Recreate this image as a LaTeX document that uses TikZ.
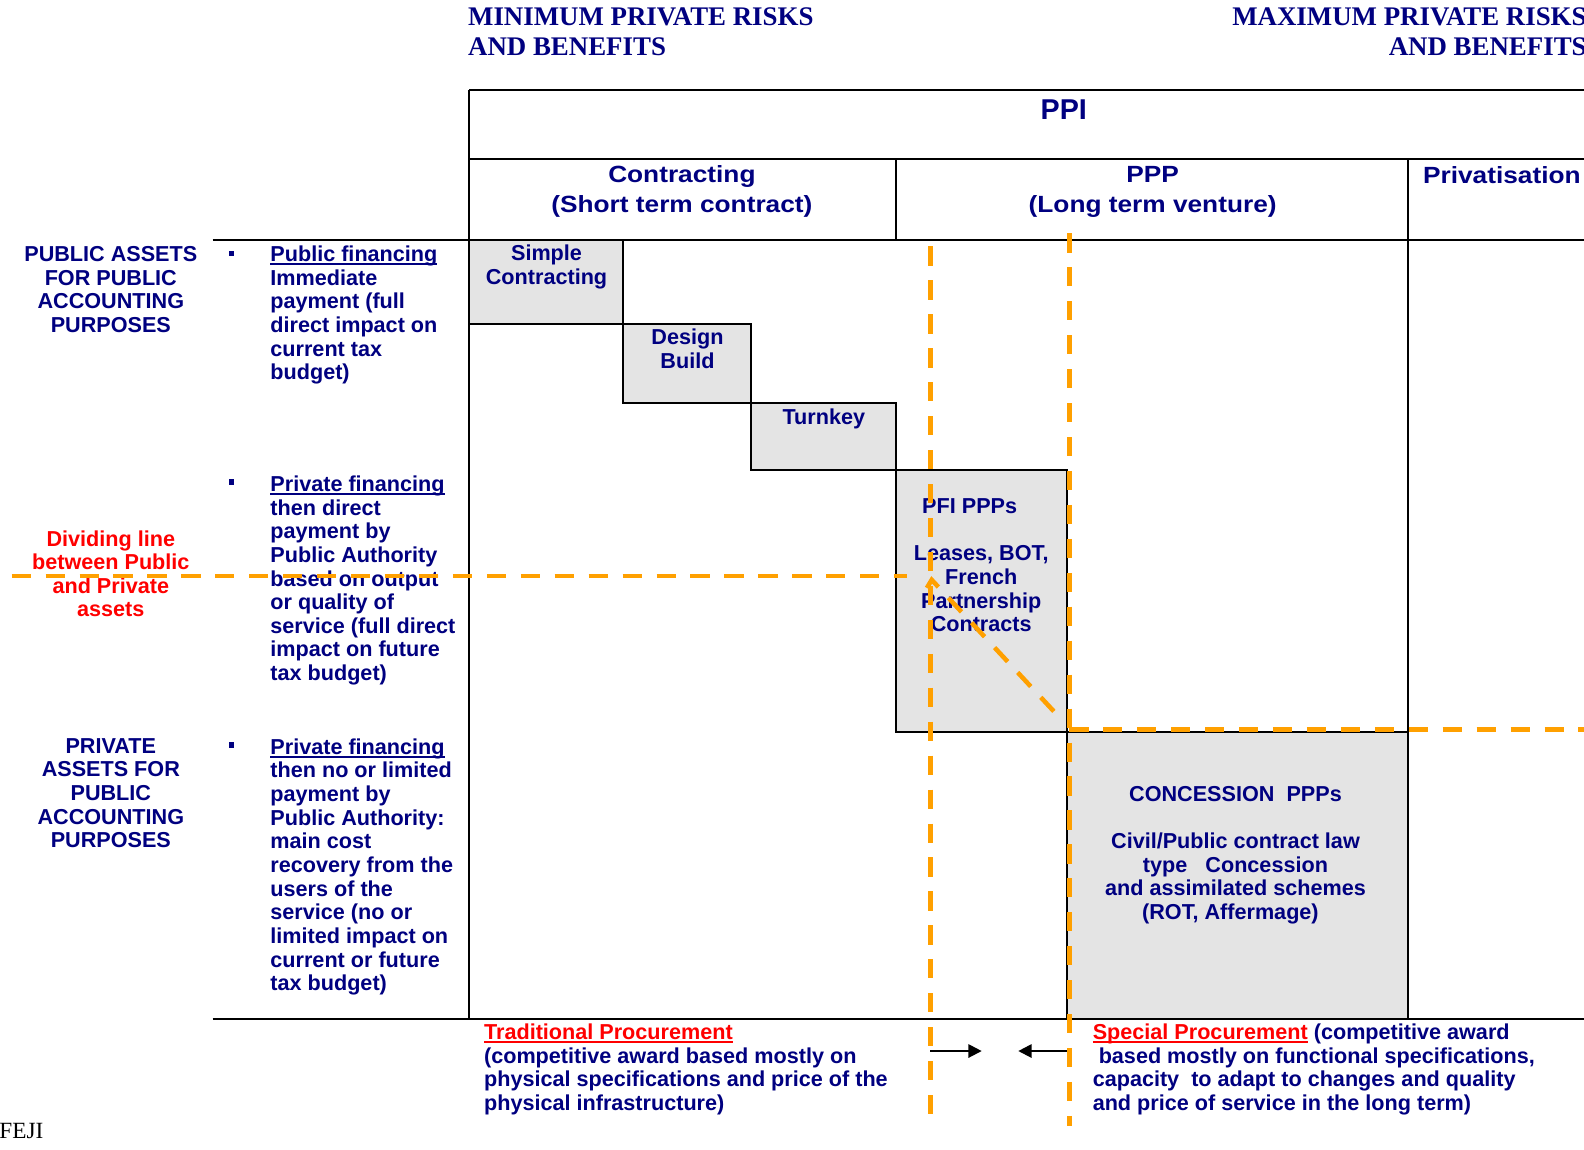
\documentclass[tikz,border=0pt]{standalone}
\usepackage{fontspec}
\setmainfont{Liberation Sans}
\newfontfamily\serifb{Liberation Serif}
\newfontfamily\hdfont[FakeStretch=1.12]{Liberation Sans}
\usetikzlibrary{arrows.meta}
\definecolor{navy}{RGB}{0,0,128}
\definecolor{orng}{RGB}{255,160,0}
\definecolor{boxgray}{RGB}{228,228,228}
\definecolor{redt}{RGB}{255,0,0}
\newlength\ulwd
\newcommand\ulr[1]{\settowidth\ulwd{#1}\rlap{\rule[-0.16em]{\ulwd}{0.09em}}#1}
\begin{document}
\begin{tikzpicture}[x=0.5pt,y=-0.5pt,
  body/.style={font=\fontsize{10.7}{11.7}\selectfont\bfseries, text=navy, inner sep=0pt},
  redbody/.style={body, text=redt},
  hdr/.style={font=\hdfont\bfseries\fontsize{11.6}{14.5}\selectfont, text=navy, inner sep=0pt},
  ppifont/.style={font=\bfseries\fontsize{14.2}{16}\selectfont, text=navy, inner sep=0pt},
  titlefont/.style={font=\serifb\bfseries\fontsize{13.3}{15}\selectfont, text=navy, inner sep=0pt},
  frame/.style={draw=black, line width=1pt},
  graybox/.style={fill=boxgray, draw=black, line width=1pt},
  orangedash/.style={draw=orng, line width=2.25pt, dash pattern=on 9.5pt off 7.3pt},
  bulletsq/.style={fill=navy, rectangle, inner sep=0pt, minimum size=2.8pt},
  arr/.style={draw=black, line width=1pt, -{Triangle[length=6.6pt,width=6.6pt]}}]
\useasboundingbox (0,0) rectangle (1568,1138);
\fill[white] (0,0) rectangle (1568,1138);

% gray boxes
\filldraw[graybox] (464.5,238) rectangle (616.5,321);
\filldraw[graybox] (616.5,321) rectangle (743,399.3);
\filldraw[graybox] (743,399.3) rectangle (887,464.8);
\filldraw[graybox] (887,464.8) rectangle (1056,725);
\filldraw[graybox] (1056,725) rectangle (1393.5,1009);

% frame lines
\draw[frame] (464.5,89.5) -- (1600,89.5);
\draw[frame] (464.5,89.5) -- (464.5,1009);
\draw[frame] (464.5,157.7) -- (1600,157.7);
\draw[frame] (887,157.7) -- (887,238);
\draw[frame] (1393.5,157.7) -- (1393.5,1009);
\draw[frame] (210.5,238) -- (1600,238);
\draw[frame] (210.5,1009) -- (1600,1009);

% titles
\node[titlefont, anchor=base west] (tmin) at (463,25.7) {MINIMUM PRIVATE RISKS};
\node[titlefont, anchor=base west] (tminb) at (463,55.4) {AND BENEFITS};
\node[titlefont, anchor=base east] (tmax) at (1571,25.7) {MAXIMUM PRIVATE RISKS};
\node[titlefont, anchor=base east] (tmaxb) at (1571,55.4) {AND BENEFITS};

% headers (base anchor = last line)
\node[ppifont, anchor=base] (ppi) at (1053,118) {PPI};
\node[hdr, anchor=base, align=center] (contr) at (675,210) {Contracting\\(Short term contract)};
\node[hdr, anchor=base, align=center] (ppp) at (1141,210) {PPP\\(Long term venture)};
\node[hdr, anchor=base west] (priv) at (1408.3,181.4) {Privatisation};

% left column
\node[body, align=center, anchor=base] (pubassets) at (109.7,329.2) {PUBLIC ASSETS\\FOR PUBLIC\\ACCOUNTING\\PURPOSES};
\node[redbody, align=center, anchor=base] (divline) at (109.7,610.7) {Dividing line\\between Public\\and Private\\assets};
\node[body, align=center, anchor=base] (privassets) at (109.7,839.2) {PRIVATE\\ASSETS FOR\\PUBLIC\\ACCOUNTING\\PURPOSES};

\node[bulletsq] (b1) at (229,251) {};
\node[bulletsq] (b2) at (229,477) {};
\node[bulletsq] (b3) at (229,737.5) {};

\node[body, align=left, anchor=base west] (fin1) at (267.3,376) {\ulr{Public financing}\\Immediate\\payment (full\\direct impact on\\current tax\\budget)};
\node[body, align=left, anchor=base west] (fin2) at (267.3,673.7) {\ulr{Private financing}\\then direct\\payment by\\Public Authority\\based on output\\or quality of\\service (full direct\\impact on future\\tax budget)};
\node[body, align=left, anchor=base west] (fin3) at (267.3,980.7) {\ulr{Private financing}\\then no or limited\\payment by\\Public Authority:\\main cost\\recovery from the\\users of the\\service (no or\\limited impact on\\current or future\\tax budget)};

% box texts
\node[body, align=center, anchor=base] (simple) at (541,281.5) {Simple\\Contracting};
\node[body, align=center, anchor=base] (design) at (680.5,364.5) {Design\\Build};
\node[body, anchor=base] (turnkey) at (815.5,420) {Turnkey};
\node[body, anchor=base west] (pfi) at (912.5,508) {PFI PPPs};
\node[body, align=center, anchor=base] (leases) at (971.3,625.5) {Leases, BOT,\\French\\Partnership\\Contracts};
\node[body, align=center, anchor=base] (conc) at (1223,910) {CONCESSION~~PPPs\\[11.7pt]Civil/Public contract law\\type~~~Concession\hspace*{14pt}\\and assimilated schemes\\(ROT, Affermage)\hspace*{5pt}};

% bottom texts
\node[body, align=left, anchor=base west] (trad) at (478.8,1099.2) {\textcolor{redt}{\ulr{Traditional Procurement}}\\(competitive award based mostly on\\physical specifications and price of the\\physical infrastructure)};
\node[body, align=left, anchor=base west] (spec) at (1081.3,1099.2) {\textcolor{redt}{\ulr{Special Procurement}} (competitive award\\~based mostly on functional specifications,\\capacity~ to adapt to changes and quality\\and price of service in the long term)};

\node[font=\serifb\fontsize{11.5}{13}\selectfont, anchor=base west, inner sep=0pt] (feji) at (-1,1126.6) {FEJI};

% arrows
\coordinate (a1s) at (920.6,1040.4);
\coordinate (a1e) at (971.8,1040.4);
\coordinate (a2s) at (1059.2,1040.4);
\coordinate (a2e) at (1008,1040.4);
\draw[arr] (a1s) -- (a1e);
\draw[arr] (a2s) -- (a2e);

% orange dashed lines
\coordinate (h1s) at (11.5,570.2);
\coordinate (h1e) at (897.5,570.2);
\coordinate (v1s) at (921.3,244);
\coordinate (v1e) at (921.3,1115);
\coordinate (v2s) at (1058.5,231);
\coordinate (v2e) at (1058.5,1115);
\coordinate (h2s) at (1058.5,722);
\coordinate (h2e) at (1600,722);
\coordinate (dk) at (917.5,582);
\coordinate (ds) at (922.3,574);
\coordinate (de) at (1050,711.5);
\draw[orangedash] (h1s) -- (h1e);
\draw[orangedash] (v1s) -- (v1e);
\draw[orangedash] (v2s) -- (v2e);
\draw[orangedash] (h2s) -- (h2e);
\draw[orangedash] (dk) -- (ds) -- (de);
\end{tikzpicture}
\end{document}
